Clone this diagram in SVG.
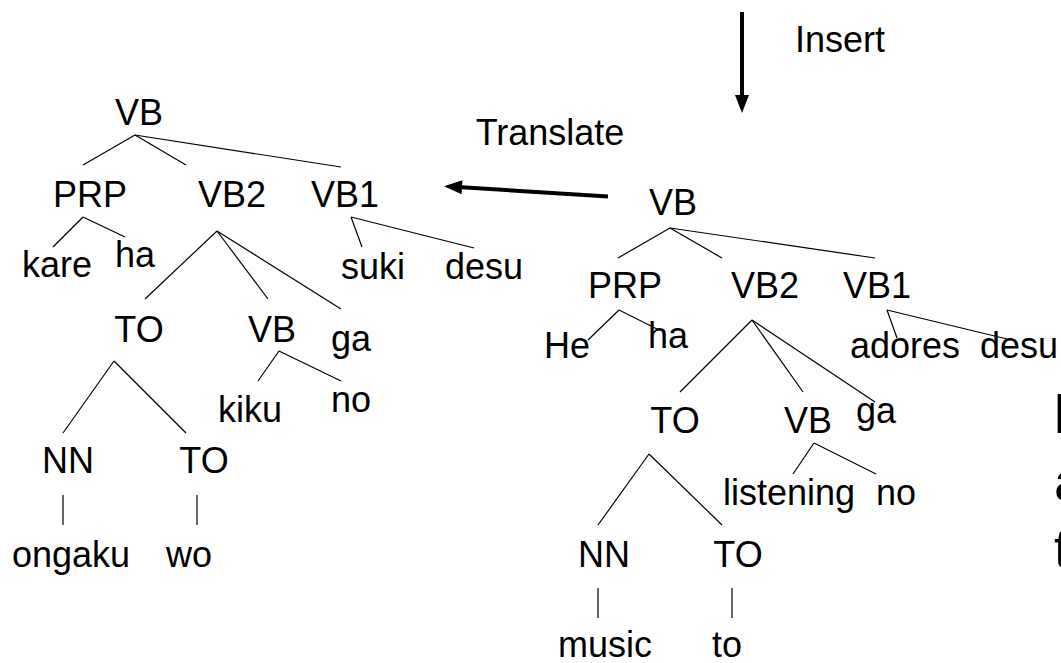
<svg xmlns="http://www.w3.org/2000/svg" width="1061" height="663" viewBox="0 0 1061 663">
<style>
text{font-family:"Liberation Sans",Arial,sans-serif;font-size:36px;fill:#000;text-anchor:middle}
.edge{stroke:#000;stroke-width:1.2;fill:none}
.arrow{stroke:#000;stroke-width:4;fill:none}
.big{font-size:54px;text-anchor:start}
</style>
<defs>
<marker id="head" markerUnits="userSpaceOnUse" markerWidth="18" markerHeight="14" refX="0" refY="7" orient="auto" overflow="visible">
<path d="M0,0 L18,7 L0,14 z" fill="#000"/>
</marker>
</defs>
<rect width="1061" height="663" fill="#fff"/>
<g id="connectors">
<line class="arrow" x1="742" y1="12" x2="742" y2="95" marker-end="url(#head)"/>
<line class="arrow" x1="608" y1="196.5" x2="462" y2="187.3" marker-end="url(#head)"/>
<!-- left tree -->
<line class="edge" x1="135" y1="135" x2="83" y2="165"/>
<line class="edge" x1="135" y1="135" x2="186" y2="165"/>
<line class="edge" x1="135" y1="135" x2="341" y2="167"/>
<line class="edge" x1="83" y1="217" x2="53" y2="247"/>
<line class="edge" x1="83" y1="217" x2="125" y2="237"/>
<line class="edge" x1="217" y1="231" x2="145" y2="299"/>
<line class="edge" x1="217" y1="231" x2="268" y2="299"/>
<line class="edge" x1="217" y1="231" x2="341" y2="309"/>
<line class="edge" x1="351" y1="217" x2="362" y2="247"/>
<line class="edge" x1="351" y1="217" x2="474" y2="248"/>
<line class="edge" x1="114" y1="361" x2="63" y2="433"/>
<line class="edge" x1="114" y1="361" x2="186" y2="433"/>
<line class="edge" x1="279" y1="351" x2="258" y2="381"/>
<line class="edge" x1="279" y1="351" x2="341" y2="381"/>
<line class="edge" x1="63" y1="495" x2="63" y2="525"/>
<line class="edge" x1="197" y1="495" x2="197" y2="525"/>
<!-- right tree -->
<line class="edge" x1="670" y1="228" x2="618" y2="258"/>
<line class="edge" x1="670" y1="228" x2="722" y2="258"/>
<line class="edge" x1="670" y1="228" x2="875" y2="258"/>
<line class="edge" x1="619" y1="310" x2="588" y2="340"/>
<line class="edge" x1="619" y1="310" x2="659" y2="330"/>
<line class="edge" x1="752" y1="320" x2="680" y2="392"/>
<line class="edge" x1="752" y1="320" x2="803" y2="392"/>
<line class="edge" x1="752" y1="320" x2="875" y2="402"/>
<line class="edge" x1="887" y1="310" x2="897" y2="338"/>
<line class="edge" x1="887" y1="310" x2="1007" y2="339"/>
<line class="edge" x1="649" y1="454" x2="598" y2="525"/>
<line class="edge" x1="649" y1="454" x2="722" y2="525"/>
<line class="edge" x1="814" y1="443" x2="793" y2="474"/>
<line class="edge" x1="814" y1="443" x2="876" y2="474"/>
<line class="edge" x1="598" y1="588" x2="598" y2="618"/>
<line class="edge" x1="732" y1="588" x2="732" y2="618"/>
</g>
<g id="label-insert"><text x="840" y="52">Insert</text></g>
<g id="label-translate"><text x="550" y="145">Translate</text></g>
<!-- left tree nodes -->
<g id="L-VB"><text x="139" y="125">VB</text></g>
<g id="L-PRP"><text x="90" y="207">PRP</text></g>
<g id="L-VB2"><text x="232" y="207">VB2</text></g>
<g id="L-VB1"><text x="345" y="207">VB1</text></g>
<g id="L-kare"><text x="57" y="277">kare</text></g>
<g id="L-ha"><text x="135" y="267">ha</text></g>
<g id="L-suki"><text x="373" y="279">suki</text></g>
<g id="L-desu"><text x="484" y="279">desu</text></g>
<g id="L-TO"><text x="139" y="342">TO</text></g>
<g id="L-VB3"><text x="272" y="342">VB</text></g>
<g id="L-ga"><text x="351" y="351">ga</text></g>
<g id="L-kiku"><text x="250" y="422">kiku</text></g>
<g id="L-no"><text x="351" y="412">no</text></g>
<g id="L-NN"><text x="68" y="473">NN</text></g>
<g id="L-TO2"><text x="204" y="473">TO</text></g>
<g id="L-ongaku"><text x="71" y="567">ongaku</text></g>
<g id="L-wo"><text x="189" y="567">wo</text></g>
<!-- right tree nodes -->
<g id="R-VB"><text x="673" y="215">VB</text></g>
<g id="R-PRP"><text x="625" y="298">PRP</text></g>
<g id="R-VB2"><text x="765" y="298">VB2</text></g>
<g id="R-VB1"><text x="877" y="298">VB1</text></g>
<g id="R-He"><text x="567" y="358">He</text></g>
<g id="R-ha"><text x="668" y="348">ha</text></g>
<g id="R-adores"><text x="905" y="358">adores</text></g>
<g id="R-desu"><text x="1019" y="358">desu</text></g>
<g id="R-TO"><text x="675" y="433">TO</text></g>
<g id="R-VB3"><text x="808" y="433">VB</text></g>
<g id="R-ga"><text x="876" y="423">ga</text></g>
<g id="R-listening"><text x="789" y="505">listening</text></g>
<g id="R-no"><text x="896" y="505">no</text></g>
<g id="R-NN"><text x="604" y="567">NN</text></g>
<g id="R-TO2"><text x="738" y="567">TO</text></g>
<g id="R-music"><text x="605" y="657">music</text></g>
<g id="R-to"><text x="727" y="657">to</text></g>
<!-- cut-off text at right edge -->
<g id="edge-text">
<text class="big" x="1054" y="433">l</text>
<text class="big" x="1054" y="500">a</text>
<text class="big" x="1054" y="567">t</text>
</g>
</svg>
